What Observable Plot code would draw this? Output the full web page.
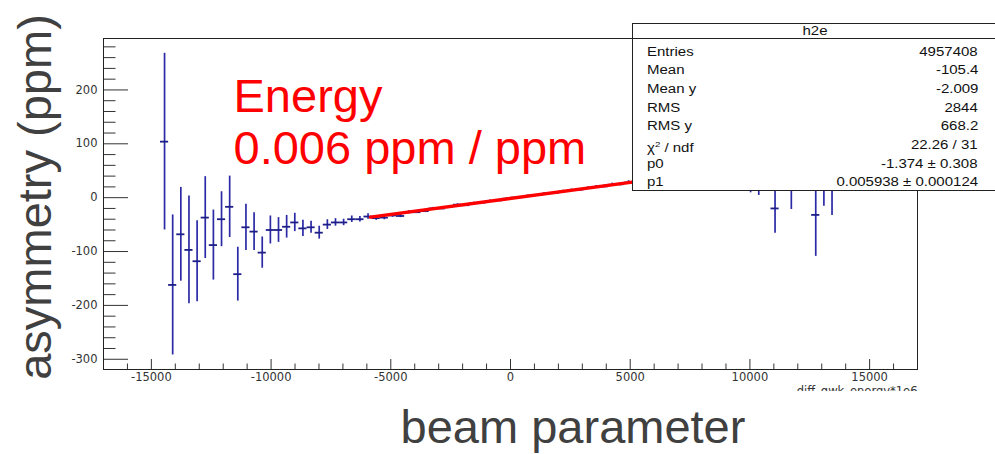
<!DOCTYPE html>
<html>
<head>
<meta charset="utf-8">
<script src="https://cdn.jsdelivr.net/npm/d3@7"></script>
<script src="https://cdn.jsdelivr.net/npm/@observablehq/plot@0.6"></script>
<style>
  html, body { margin: 0; padding: 0; background: #fff; }
  #wrap { position: relative; width: 995px; height: 454px; overflow: hidden; background: #fff; }
  #chart { position: absolute; left: 0; top: 0; width: 995px; height: 391px; overflow: hidden; }
  #chart svg { overflow: hidden; }
  #xcaption {
    position: absolute; left: 573px; top: 403px; transform: translateX(-50%);
    font-family: "Liberation Sans", Arial, sans-serif; font-size: 47px; line-height: 47px;
    color: #404040; white-space: nowrap;
  }
  #stats {
    position: absolute; left: 632px; top: 23px; width: 380px; height: 168px;
    box-sizing: border-box; border: 1px solid #222; background: #fff;
    font-family: "Liberation Sans", Arial, sans-serif; font-size: 12.5px; color: #111;
  }
  #stats .hdr-line { position: absolute; left: 0; right: 0; top: 14px; height: 1px; background: #222; }
  #stats span { position: absolute; line-height: 14px; white-space: nowrap; }
  #stats .lab { left: 14px; transform: scaleX(1.2); transform-origin: left center; }
  #stats .val { right: 33px; transform: scaleX(1.2); transform-origin: right center; }
  #stats .ttl { left: 182px; transform: translateX(-50%) scaleX(1.2); }
</style>
</head>
<body>
<div id="wrap">
  <div id="chart"></div>
  <div id="xcaption"></div>
  <div id="stats"></div>
</div>
<script>
// Profile of the asymmetry (ppm) in bins of the energy difference (x 1e6), bin width 340
const binCenter = [
  -14450, -14110, -13770, -13430, -13090, -12750, -12410, -12070, -11730, -11390,
  -11050, -10710, -10370, -10030, -9690, -9350, -9010, -8670, -8330, -7990,
  -7650, -7310, -6970, -6630, -6290, -5950, -5610, -5270, -4930, -4590,
  -4250, -3910, -3570, -3230, -2890, -2550, -2210, -1870, -1530, -1190,
  -850, -510, -170, 170, 510, 850, 1190, 1530, 1870, 2210,
  2550, 2890, 3230, 3570, 3910, 4250, 4590, 4930, 5270, 5610,
  5950, 6290, 6630, 6970, 7310, 7650, 7990, 8330, 8670, 9010,
  9350, 9690, 10030, 10370, 10710, 11050, 11390, 11730, 12070, 12410,
  12750, 13090, 13430, 13770
];
const asymMean = [
  104, -162, -68, -97, -118, -37, -88, -40, -17, -142,
  -55, -63, -102, -60, -60, -54, -46, -57, -55, -65,
  -50, -46, -46, -40, -40, -35, -38, -37, -33, -34,
  -27, -27, -25, -20, -20, -17, -13, -14, -10, -9,
  -6, -5, -2, 0, 1, 4, 5, 8, 9, 12,
  14, 15, 18, 20, 21, 24, 25, 28, 31, 33,
  34, 37, 40, 41, 42, 45, 46, 48, 50, 49,
  52, 54, 40, 48, 45, -20, 50, 30, 55, 60,
  -32, 20, 25, 60, 15
];
const asymErr = [
  164, 130, 87, 100, 75, 76, 65, 51, 57, 50,
  43, 35, 29, 26, 23, 21, 17, 15, 11, 12,
  9, 7, 6, 6, 5, 5, 4, 4, 3.5, 3,
  3, 2.5, 2.5, 2, 2, 2, 1.8, 1.8, 1.6, 1.6,
  1.5, 1.5, 1.5, 1.5, 1.5, 1.5, 1.6, 1.6, 1.8, 1.8,
  2, 2, 2.2, 2.5, 2.5, 3, 3, 3.5, 4, 5,
  6, 6, 7, 8, 9, 10, 12, 13, 15, 17,
  19, 22, 31, 44, 25, 46, 30, 52, 35, 40,
  77, 36, 58, 45, 76
];
const binHalfWidth = 170;

// Linear fit (pol1) over the central range
const p0 = -1.374, p0Err = 0.308;
const p1 = 0.005938, p1Err = 0.000124;
const fitRange = [-5850, 5400];

// Statistics box
const statTitle = "h2e";
const statLabels = ["Entries", "Mean", "Mean y", "RMS", "RMS y", "χ<sup style='font-size:8px;vertical-align:5px'>2</sup> / ndf", "p0", "p1"];
const statValues = ["4957408", "-105.4", "-2.009", "2844", "668.2", "22.26 / 31",
  `${p0} ± ${p0Err}`, `${p1} ± ${p1Err}`];

// Annotations and axis titles
const slopeNote = ["Energy", "0.006 ppm / ppm"];
const yTitle = "asymmetry (ppm)";
const xTitle = "beam parameter";
const histXTitle = "diff_qwk_energy*1e6";

// Axis ticks
const xMajor = [-15000, -10000, -5000, 0, 5000, 10000, 15000];
const yMajor = [-300, -200, -100, 0, 100, 200];
const xMinor = d3.range(-16000, 16001, 1000).filter(v => v % 5000 !== 0);
const yMinor = d3.range(-300, 281, 20).filter(v => v % 100 !== 0);

const points = binCenter.map((x, i) => ({x, y: asymMean[i], e: asymErr[i]}));

const W = 995, H = 391, mL = 103, mR = 78, mT = 38, mB = 22;
const frameW = W - mL - mR, frameH = H - mT - mB;
const ink = "#333";
const blue = "#2a2aa6";

const chart = Plot.plot({
  width: W, height: H,
  marginLeft: mL, marginRight: mR, marginTop: mT, marginBottom: mB,
  style: {fontFamily: "DejaVu Sans", fontSize: "11.5px", color: ink, background: "white", overflow: "hidden"},
  x: {domain: [-17000, 17000]},
  y: {domain: [-319, 295.5]},
  marks: [
    // inward ROOT-style ticks
    Plot.tickY(yMajor, {y: d => d, insetRight: frameW - 25, stroke: ink}),
    Plot.tickY(yMinor, {y: d => d, insetRight: frameW - 12.5, stroke: ink}),
    Plot.tickX(xMajor, {x: d => d, insetTop: frameH - 10, stroke: ink}),
    Plot.tickX(xMinor, {x: d => d, insetTop: frameH - 5.5, stroke: ink}),
    Plot.axisY({ticks: yMajor, tickSize: 0, tickPadding: 6, label: null, tickFormat: d => String(d), fontSize: 11.5}),
    Plot.axisX({ticks: xMajor, tickSize: 0, tickPadding: 3, label: null, tickFormat: d => String(d), fontSize: 11.5}),
    // profile points with error bars
    Plot.ruleX(points, {x: "x", y1: d => d.y - d.e, y2: d => d.y + d.e, stroke: blue, strokeWidth: 1.7}),
    Plot.ruleY(points, {y: "y", x1: d => d.x - binHalfWidth, x2: d => d.x + binHalfWidth, stroke: "#1e1e88", strokeWidth: 1.8}),
    // fitted line p0 + p1 * x
    Plot.line(fitRange, {x: d => d, y: d => p0 + p1 * d, stroke: "#ff0000", strokeWidth: 3.5}),
    Plot.frame({stroke: "#222", strokeWidth: 1}),
    Plot.text([histXTitle], {text: d => d, frameAnchor: "bottom-right", textAnchor: "end", lineAnchor: "top",
      dy: 17, fontSize: 11.5, fill: ink}),
    Plot.text([slopeNote.join("\n")], {text: d => d, frameAnchor: "top-left", textAnchor: "start", lineAnchor: "top",
      dx: 130, dy: 36.6, fontSize: 47, lineHeight: 52 / 47, fill: "#ff0000", fontFamily: "Liberation Sans"}),
    Plot.text([yTitle], {text: d => d, frameAnchor: "left", rotate: -90, textAnchor: "middle", lineAnchor: "middle",
      dx: -68, dy: -7, fontSize: 47, fill: "#404040", fontFamily: "Liberation Sans"})
  ]
});
document.getElementById("chart").appendChild(chart);

document.getElementById("xcaption").textContent = xTitle;

// statistics box
const stats = document.getElementById("stats");
const boxTop = 24;
const addSpan = (cls, html, top) => {
  const s = document.createElement("span");
  s.className = cls;
  s.innerHTML = html;
  s.style.top = `${top}px`;
  stats.appendChild(s);
};
const line = document.createElement("div");
line.className = "hdr-line";
stats.appendChild(line);
addSpan("ttl", statTitle, 31 - 7 - boxTop);
statLabels.forEach((lab, k) => {
  const center = 51.7 + k * 18.66;
  addSpan("lab", lab, center - 7 - boxTop);
  addSpan("val", statValues[k], center - 7 - boxTop);
});
</script>
</body>
</html>
